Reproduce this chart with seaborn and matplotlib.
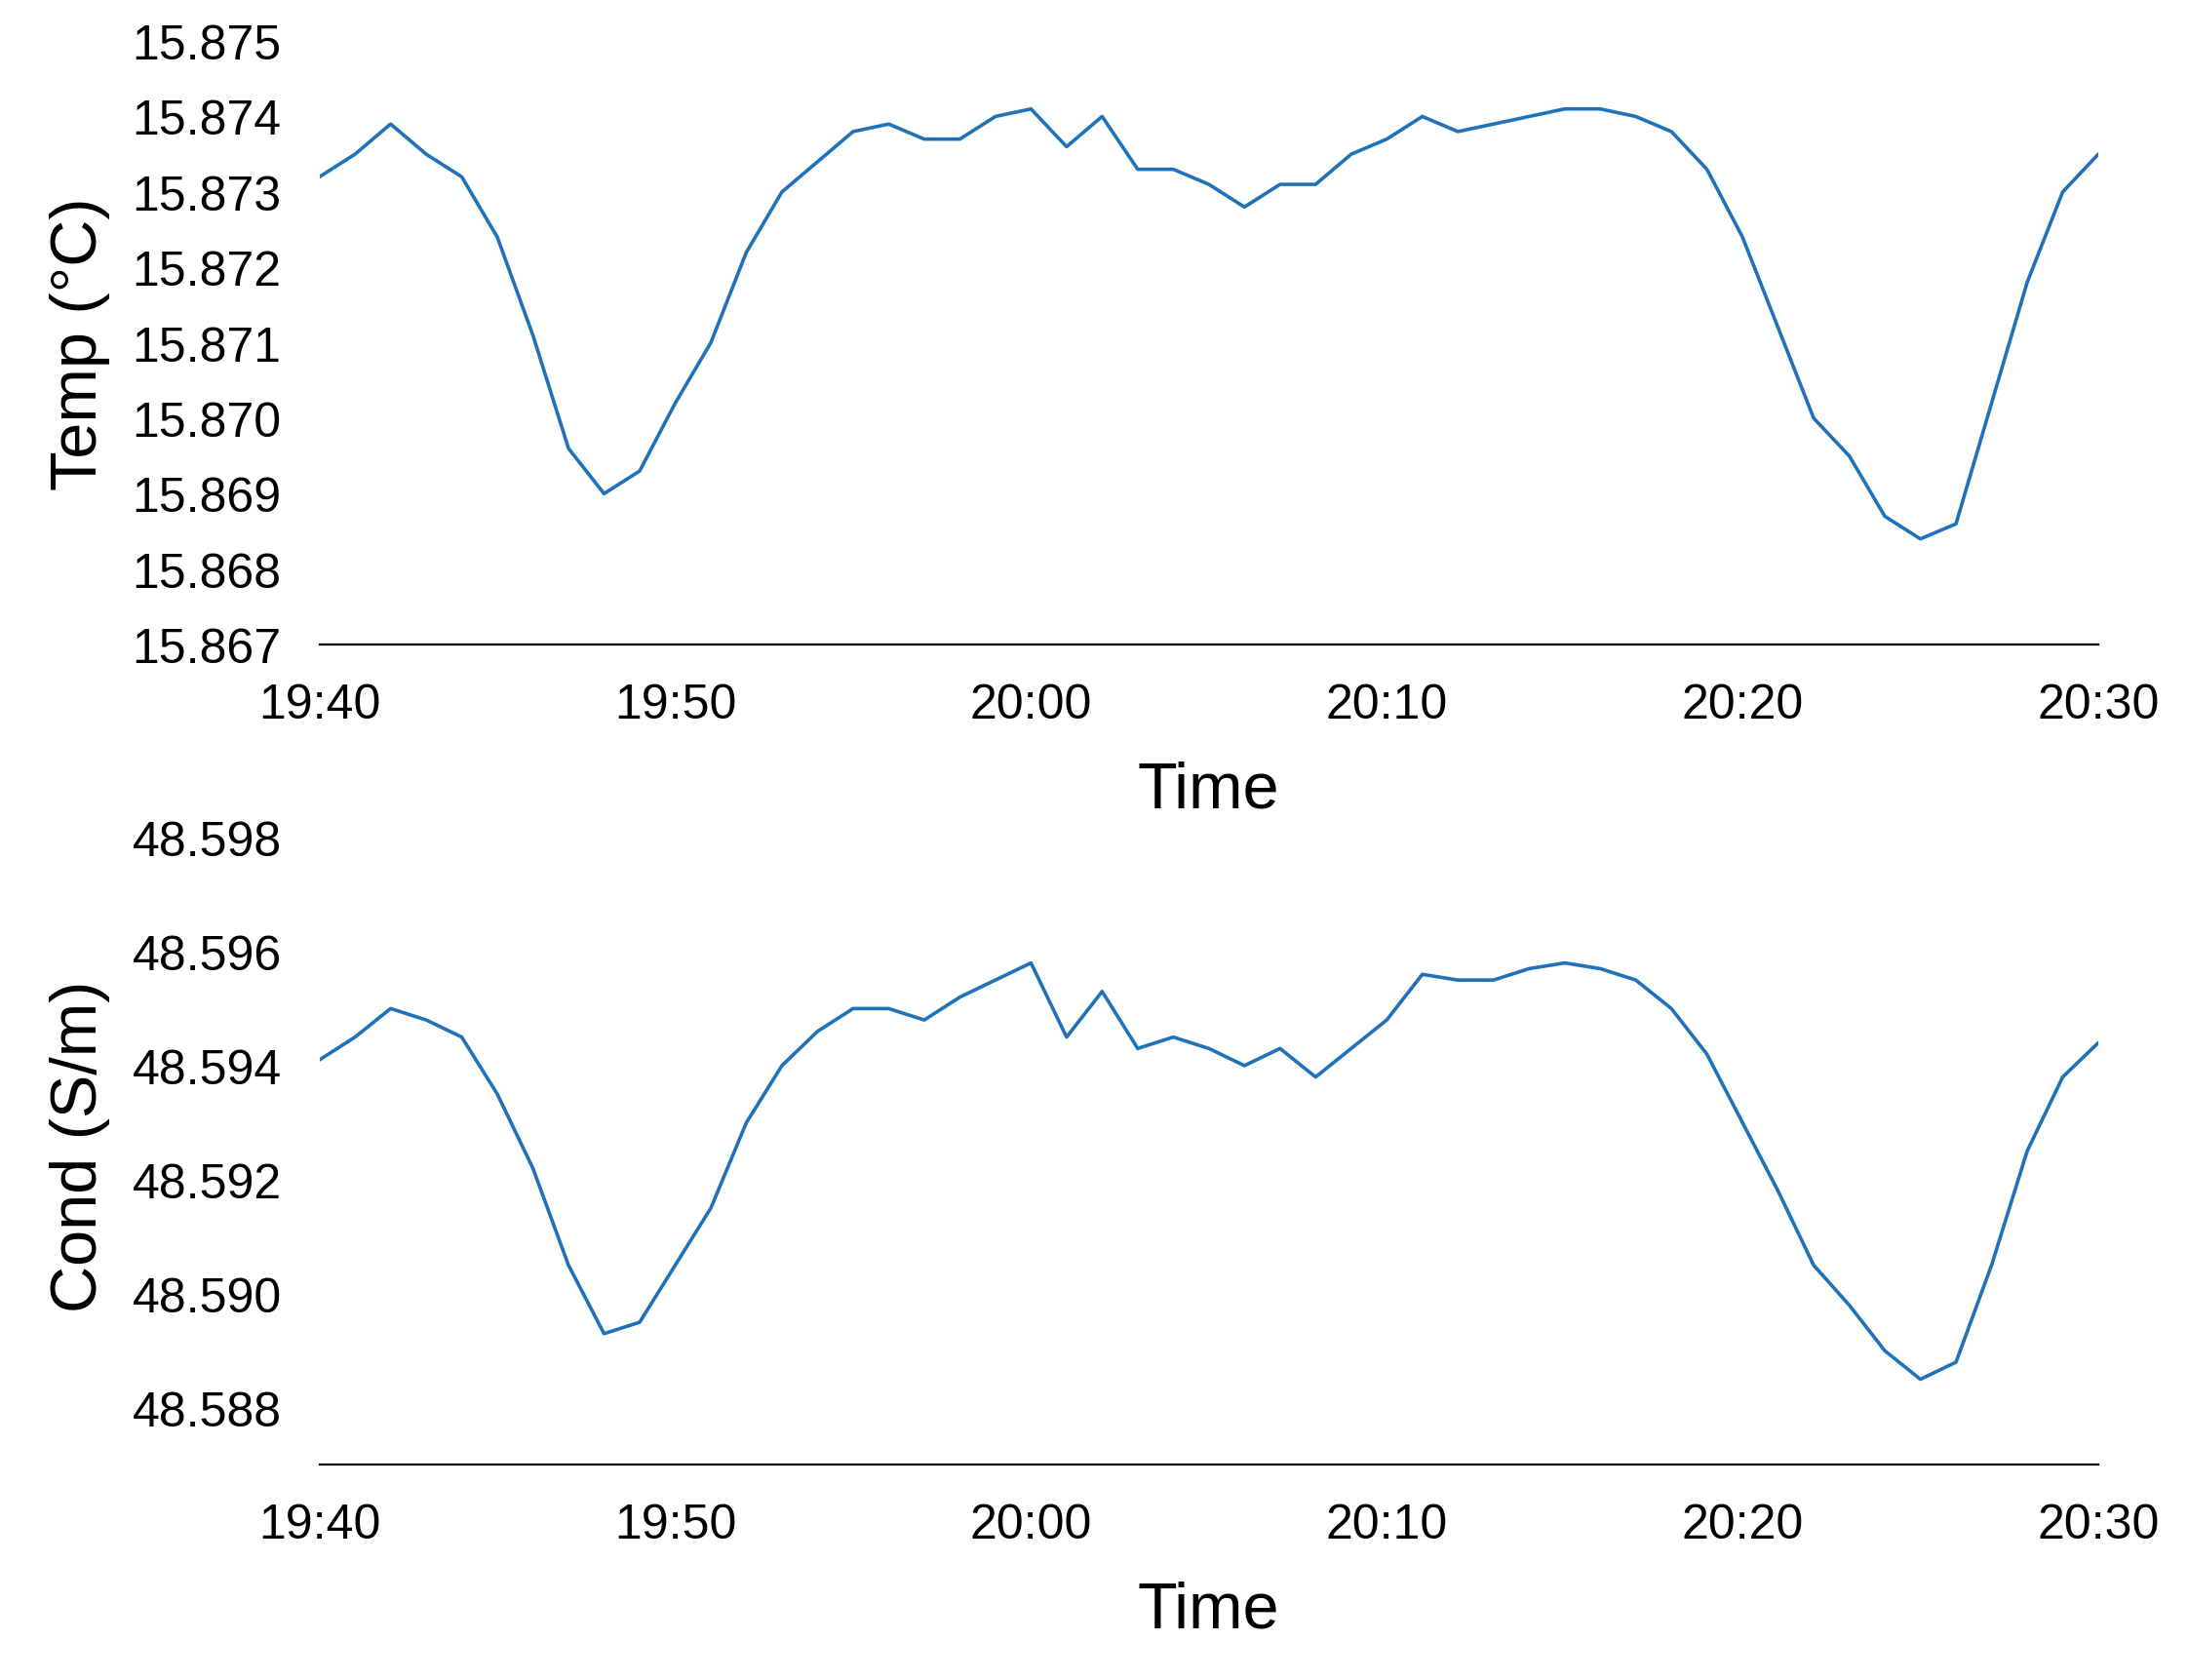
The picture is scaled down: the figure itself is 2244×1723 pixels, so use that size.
import matplotlib
matplotlib.use("Agg")
import matplotlib.pyplot as plt
import matplotlib.dates as mdates
import seaborn as sns
import pandas as pd

minutes = list(range(0, 51))
temp = [15.8732, 15.8735, 15.8739, 15.8735, 15.8732, 15.8724, 15.8711, 15.8696, 15.8690, 15.8693,
        15.8702, 15.8710, 15.8722, 15.8730, 15.8734, 15.8738, 15.8739, 15.8737, 15.8737, 15.8740,
        15.8741, 15.8736, 15.8740, 15.8733, 15.8733, 15.8731, 15.8728, 15.8731, 15.8731, 15.8735,
        15.8737, 15.8740, 15.8738, 15.8739, 15.8740, 15.8741, 15.8741, 15.8740, 15.8738, 15.8733,
        15.8724, 15.8712, 15.8700, 15.8695, 15.8687, 15.8684, 15.8686, 15.8702, 15.8718, 15.8730,
        15.8735]
cond = [48.5941, 48.5945, 48.5950, 48.5948, 48.5945, 48.5935, 48.5922, 48.5905, 48.5893, 48.5895,
        48.5905, 48.5915, 48.5930, 48.5940, 48.5946, 48.5950, 48.5950, 48.5948, 48.5952, 48.5955,
        48.5958, 48.5945, 48.5953, 48.5943, 48.5945, 48.5943, 48.5940, 48.5943, 48.5938, 48.5943,
        48.5948, 48.5956, 48.5955, 48.5955, 48.5957, 48.5958, 48.5957, 48.5955, 48.5950, 48.5942,
        48.5930, 48.5918, 48.5905, 48.5898, 48.5890, 48.5885, 48.5888, 48.5905, 48.5925, 48.5938,
        48.5944]

start = pd.Timestamp("2020-01-01 19:40")
df = pd.DataFrame({"time": [start + pd.Timedelta(minutes=m) for m in minutes],
                   "temp": temp, "cond": cond})

sns.set_style("white")
plt.rcParams["font.family"] = ["Liberation Sans", "DejaVu Sans"]
plt.rcParams["text.color"] = "black"
color = "#1f72b8"

fig = plt.figure(figsize=(11.22, 8.62), dpi=200)
ax1 = fig.add_axes([0.146, 0.616, 0.813, 0.359])
ax2 = fig.add_axes([0.146, 0.128, 0.813, 0.380])

panels = [(ax1, "temp", "Temp (°C)", (15.867, 15.875), [15.867 + 0.001 * i for i in range(9)]),
          (ax2, "cond", "Cond (S/m)", (48.587, 48.5982), [48.588 + 0.002 * i for i in range(6)])]

for ax, col, label, ylim, ticks in panels:
    sns.lineplot(data=df, x="time", y=col, ax=ax, color=color, linewidth=1.3)
    ax.set_ylim(*ylim)
    ax.set_yticks(ticks)
    ax.set_yticklabels(["%.3f" % t for t in ticks])
    ax.set_xlim(start, start + pd.Timedelta(minutes=50))
    ax.xaxis.set_major_locator(mdates.MinuteLocator(byminute=[0, 10, 20, 30, 40, 50]))
    ax.xaxis.set_major_formatter(mdates.DateFormatter("%H:%M"))
    for s in ["top", "right", "left"]:
        ax.spines[s].set_visible(False)
    ax.spines["bottom"].set_color("black")
    ax.tick_params(length=0, labelsize=18, pad=14, labelcolor="black")
    ax.set_xlabel("Time", fontsize=24, color="black", labelpad=12)
    ax.set_ylabel(label, fontsize=24, color="black", labelpad=8)
    ax.set_facecolor("white")

fig.savefig("out.png", dpi=200, facecolor="white")
